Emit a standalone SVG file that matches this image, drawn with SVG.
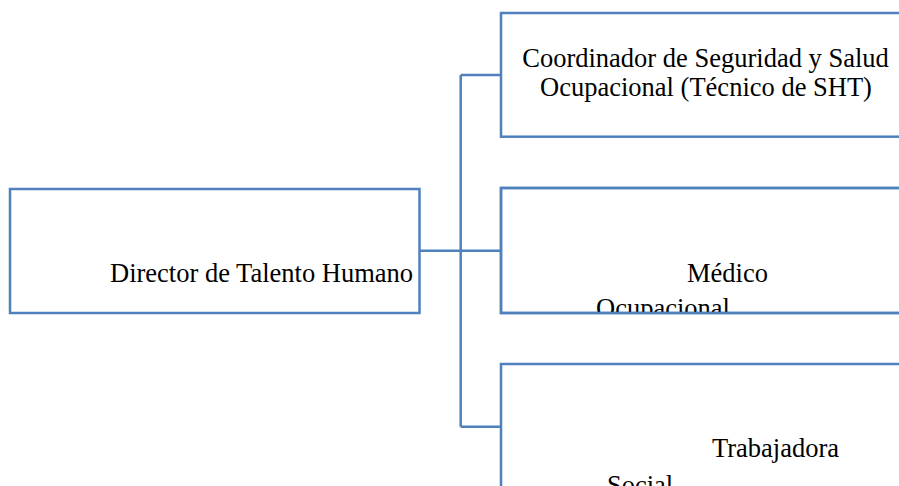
<svg xmlns="http://www.w3.org/2000/svg" width="899" height="486" viewBox="0 0 899 486">
<style>
.box{fill:#ffffff;stroke:#4F81BD;stroke-width:2.5}
.conn{fill:none;stroke:#4F81BD;stroke-width:2.5}
.t{font-family:"Liberation Serif","Times New Roman",serif;font-size:26.5px;fill:#000000}
</style>
<defs>
<clipPath id="clipMed"><rect x="501" y="188" width="400" height="125"/></clipPath>
</defs>
<g id="connectors">
<path class="conn" d="M420 250.7 H501 M460.7 75 V426.7 M460.7 75 H501 M460.7 426.7 H501"/>
</g>
<g id="director">
<rect class="box" x="10" y="189" width="409.5" height="124"/>
<text class="t" x="110" y="281.5">Director de Talento Humano</text>
</g>
<g id="coordinador">
<rect class="box" x="501" y="13" width="460" height="123.7"/>
<text class="t" x="705.5" y="67" text-anchor="middle">Coordinador de Seguridad y Salud</text>
<text class="t" x="706" y="96" text-anchor="middle">Ocupacional (Técnico de SHT)</text>
</g>
<g id="medico">
<rect class="box" x="501" y="188" width="460" height="125"/>
<g clip-path="url(#clipMed)">
<text class="t" x="687" y="282">Médico</text>
<text class="t" x="596" y="316.5">Ocupacional</text>
</g>
<rect x="501" y="188" width="460" height="125" fill="none" stroke="#4F81BD" stroke-width="2.5"/>
</g>
<g id="trabajadora">
<rect class="box" x="501" y="364" width="460" height="200"/>
<text class="t" x="712" y="457">Trabajadora</text>
<text class="t" x="607" y="494">Social</text>
</g>
</svg>
